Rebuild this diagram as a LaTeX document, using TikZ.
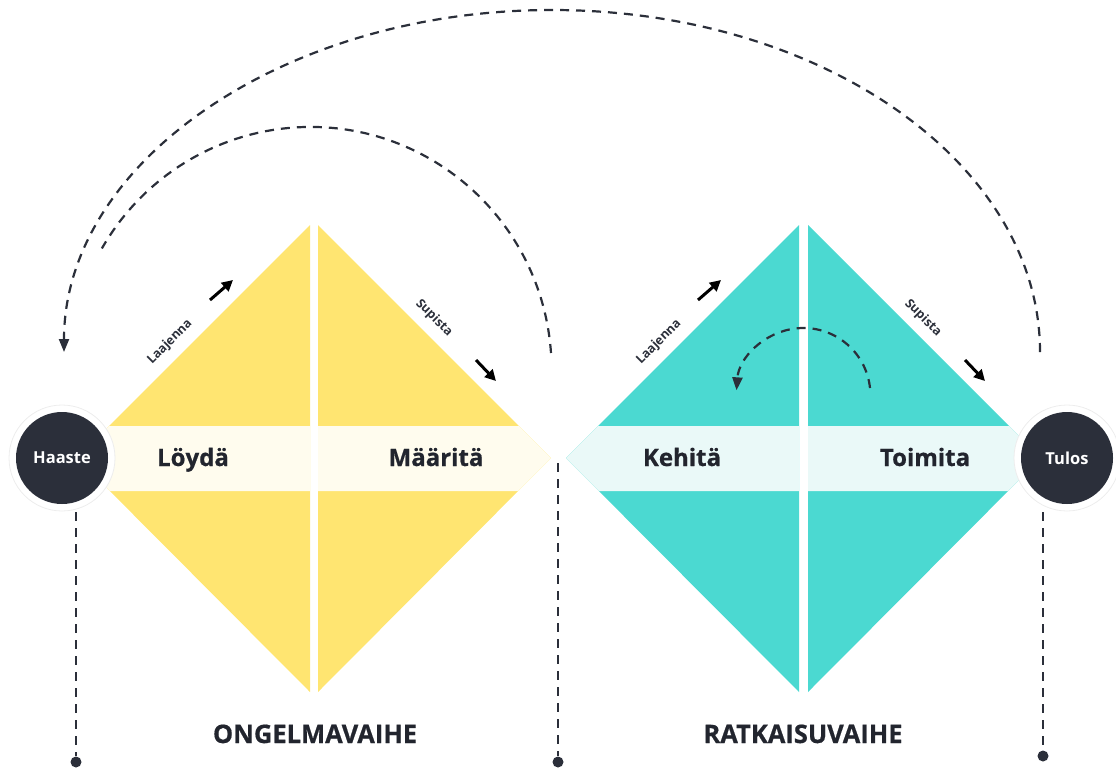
\documentclass[tikz,border=0pt]{standalone}
\usepackage{fontspec}
\setmainfont{Open Sans}
\newfontfamily\heavyfont{Open Sans}[FakeBold=0.6]
\usetikzlibrary{arrows.meta}

\definecolor{ink}{HTML}{2B2F3A}
\definecolor{sun}{HTML}{FFE571}
\definecolor{sunband}{HTML}{FFFCEE}
\definecolor{aqua}{HTML}{4BD9D1}
\definecolor{aquaband}{HTML}{EAF9F8}

\tikzset{
  bigword/.style={font=\heavyfont\fontsize{24}{28}\selectfont\bfseries, text=ink!80!black, inner sep=0pt, anchor=base},
  phase/.style={font=\heavyfont\fontsize{25.5}{29}\selectfont\bfseries, text=ink!80!black, inner sep=0pt, anchor=base},
  hubring/.style={circle, fill=white, draw=black!7, line width=0.8pt, minimum size=106pt, inner sep=0pt},
  hub/.style={circle, fill=ink, minimum size=92pt, inner sep=0pt, text=white,
    font=\fontsize{16.5}{18}\selectfont\bfseries},
  sidelabel/.style={font=\fontsize{12.5}{14}\selectfont\bfseries, text=ink, inner sep=0pt},
  minarrow/.style={line width=3pt, black, -{Triangle[length=11pt,width=11pt]}},
  dashline/.style={line width=2.2pt, ink, dash pattern=on 9pt off 7pt},
  dashtip/.style={-{Triangle[length=13pt,width=10pt]}},
  enddot/.style={circle, fill=ink, minimum size=11pt, inner sep=0pt},
}

\begin{document}
\begin{tikzpicture}[x=1pt,y=-1pt]
\useasboundingbox (0,0) rectangle (1116,769);

% problem phase diamond (two halves)
\fill[sun] (77,458) -- (310,225) -- (310,692) -- cycle;
\fill[sun] (318,225) -- (551,458) -- (318,692) -- cycle;
\fill[sunband] (109,426) -- (310,426) -- (310,491) -- (110,491) -- (77,458) -- cycle;
\fill[sunband] (318,426) -- (519,426) -- (551,458) -- (518,491) -- (318,491) -- cycle;

% solution phase diamond (two halves)
\fill[aqua] (566,458) -- (799,225) -- (799,692) -- cycle;
\fill[aqua] (808,225) -- (1041,458) -- (808,692) -- cycle;
\fill[aquaband] (598,426) -- (799,426) -- (799,491) -- (599,491) -- (566,458) -- cycle;
\fill[aquaband] (808,426) -- (1009,426) -- (1041,458) -- (1008,491) -- (808,491) -- cycle;

% stage names
\node[bigword] (loyda) at (193,466) {Löydä};
\node[bigword] (maarita) at (436,466) {Määritä};
\node[bigword] (kehita) at (682,466) {Kehitä};
\node[bigword] (toimita) at (925,466) {Toimita};

% diverge / converge labels
\node[sidelabel, rotate=45] (laaj1) at (170,342) {Laajenna};
\node[sidelabel, rotate=-45] (sup1) at (434,318) {Supista};
\node[sidelabel, rotate=45] (laaj2) at (659,342) {Laajenna};
\node[sidelabel, rotate=-45] (sup2) at (923,318) {Supista};

% small direction arrows
\coordinate (a1s) at (210,300); \coordinate (a1e) at (233,280);
\coordinate (a2s) at (476,360); \coordinate (a2e) at (496,381);
\coordinate (a3s) at (698,300); \coordinate (a3e) at (721,280);
\coordinate (a4s) at (965,360); \coordinate (a4e) at (985,381);
\draw[minarrow] (a1s) -- (a1e);
\draw[minarrow] (a2s) -- (a2e);
\draw[minarrow] (a3s) -- (a3e);
\draw[minarrow] (a4s) -- (a4e);

% feedback loops
\coordinate (outerstart) at (1040,352);
\coordinate (innerstart) at (551,353);
\coordinate (loopstart) at (870,388);
\draw[dashline, dashtip] (outerstart) arc[start angle=0, end angle=-180, x radius=488, y radius=342];
\draw[dashline] (innerstart) arc[start angle=-4, end angle=-150, x radius=241, y radius=243];
\draw[dashline, dashtip] (loopstart) arc[start angle=-6, end angle=-176, radius=67];

% start and end hubs
\node[hubring] (haastering) at (62,458) {};
\node[hub] (haaste) at (62,458) {Haaste};
\node[hubring] (tulosring) at (1067,458) {};
\node[hub] (tulos) at (1067,458) {Tulos};

% phase boundaries
\coordinate (v1top) at (76,512);
\coordinate (v2top) at (558,463);
\coordinate (v3top) at (1043,512);
\node[enddot] (dot1) at (76,762) {};
\node[enddot] (dot2) at (558,762) {};
\node[enddot] (dot3) at (1043,756) {};
\draw[dashline] (v1top) -- (dot1);
\draw[dashline] (v2top) -- (dot2);
\draw[dashline] (v3top) -- (dot3);

% phase titles
\node[phase] (ongelma) at (315,743) {ONGELMAVAIHE};
\node[phase] (ratkaisu) at (803,743) {RATKAISUVAIHE};
\end{tikzpicture}
\end{document}
